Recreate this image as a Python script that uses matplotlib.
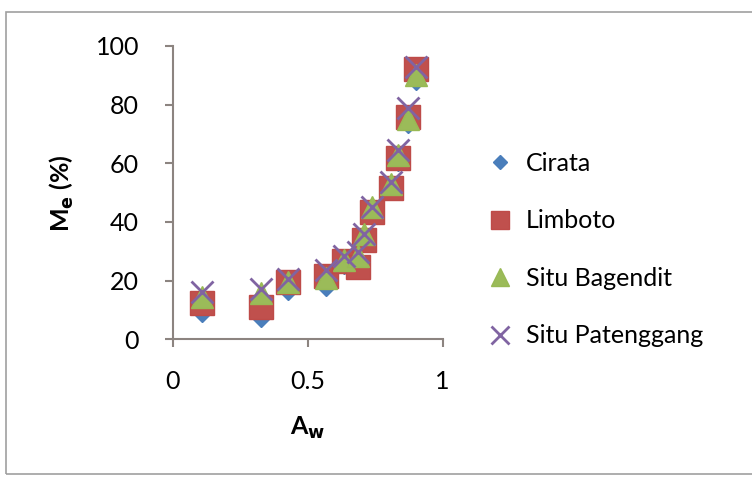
import numpy as np
import matplotlib.pyplot as plt
from matplotlib.patches import Rectangle

plt.rcParams['font.family'] = ['Lato', 'DejaVu Sans']

aw = [0.108, 0.328, 0.427, 0.567, 0.636, 0.688, 0.707, 0.74, 0.808, 0.836, 0.87, 0.9]
cirata = [8.9, 7.2, 16.5, 17.9, 25.5, 27.0, 33.0, 44.0, 50.5, 60.5, 73.5, 88.0]
limboto = [12.5, 10.9, 19.6, 21.6, 26.7, 24.8, 34.0, 43.5, 51.5, 61.7, 75.7, 92.0]
bagendit = [14.5, 15.7, 19.6, 21.0, 27.0, 28.5, 36.0, 45.0, 53.0, 63.0, 75.0, 90.0]
patenggang = [16.2, 17.0, 20.4, 23.6, 28.4, 29.9, 36.0, 45.2, 53.7, 64.5, 79.0, 93.0]

names = ['Cirata', 'Limboto', 'Situ Bagendit', 'Situ Patenggang']

fig = plt.figure(figsize=(7.52, 4.8), dpi=100)
ax = fig.add_axes([0.2294, 0.2931, 0.3593, 0.6111])

ax.plot(aw, cirata, 'D', color='#4a7ebb', ms=9, mec='#4a7ebb', label=names[0])
ax.plot(aw, limboto, 's', color='#c0504d', ms=17, mec='#be4b48', label=names[1])
ax.plot(aw, bagendit, '^', color='#9bbb59', ms=16, mec='#98b954', label=names[2])
ax.plot(aw, patenggang, 'x', color='#8064a2', ms=16, mew=2, label=names[3])

ax.set_xlim(0, 1)
ax.set_ylim(0, 100)
ax.set_xticks([0, 0.5, 1])
ax.set_xticklabels(['0', '0.5', '1'])
ax.set_yticks([0, 20, 40, 60, 80, 100])
for s in ['top', 'right']:
    ax.spines[s].set_visible(False)
for s in ['left', 'bottom']:
    ax.spines[s].set_color('#8c8480')
    ax.spines[s].set_linewidth(1.5)
ax.tick_params(colors='#8c8480', length=6, width=1.5, labelsize=18, labelcolor='black')
ax.tick_params(axis='x', pad=16)
ax.tick_params(axis='y', pad=18)

ax.set_xlabel('A$_\\mathbf{w}$', fontsize=18, fontweight='bold', labelpad=16)
ax.set_ylabel('M$_\\mathbf{e}$ (%)', fontsize=18, fontweight='bold', labelpad=14)

handles = [ax.lines[i] for i in range(4)]
leg = fig.legend(handles, names, loc='center left', bbox_to_anchor=(0.62, 0.48),
                 frameon=False, fontsize=18, handletextpad=0.6, labelspacing=1.38,
                 handlelength=0.9, markerscale=0.8)

fig.patches.append(Rectangle((0.008, 0.013), 0.995, 0.962, transform=fig.transFigure,
                             fill=False, edgecolor='#a0a0a0', linewidth=1.2))

fig.savefig('out.png', dpi=100)
